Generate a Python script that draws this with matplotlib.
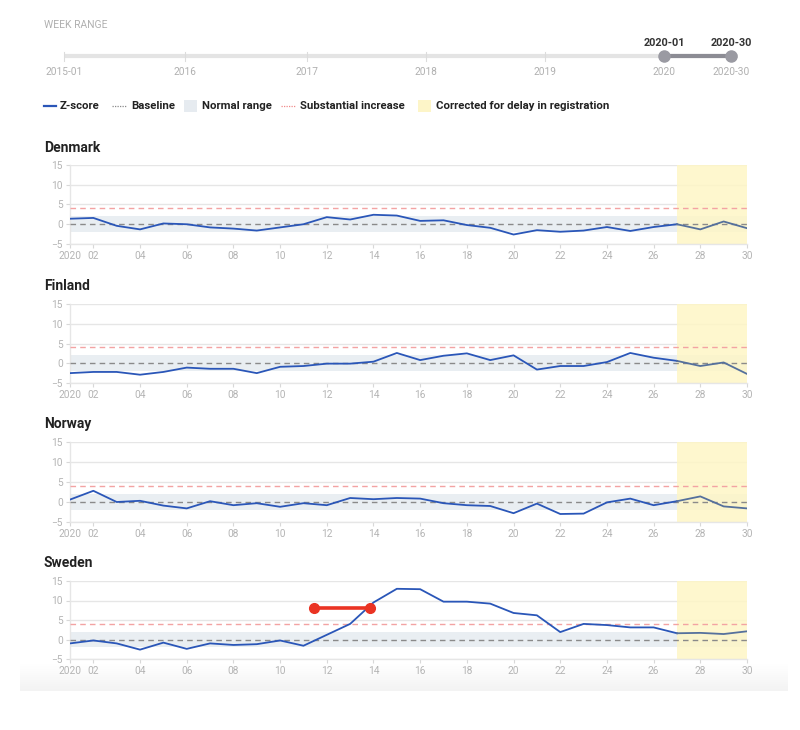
import numpy as np
import matplotlib
matplotlib.use("Agg")
import matplotlib.pyplot as plt
from matplotlib.patches import Rectangle
from matplotlib.colors import LinearSegmentedColormap

plt.rcParams['font.family'] = ['Roboto', 'DejaVu Sans']

weeks = list(range(1, 31))
countries = ["Denmark", "Finland", "Norway", "Sweden"]

denmark = [1.4, 1.6, -0.4, -1.3, 0.2, 0.0, -0.8, -1.1, -1.6, -0.8,
           0.0, 1.8, 1.2, 2.4, 2.2, 0.85, 1.0, -0.2, -0.9, -2.6,
           -1.5, -1.9, -1.6, -0.7, -1.7, -0.7, 0.0, -1.3, 0.7, -1.0]
finland = [-2.5, -2.2, -2.2, -2.9, -2.2, -1.1, -1.4, -1.4, -2.5, -0.9,
           -0.7, -0.1, -0.1, 0.4, 2.6, 0.8, 1.9, 2.5, 0.8, 2.0,
           -1.6, -0.7, -0.7, 0.3, 2.6, 1.4, 0.6, -0.7, 0.2, -2.7]
norway = [0.6, 2.8, 0.0, 0.3, -0.9, -1.6, 0.2, -0.8, -0.3, -1.2,
          -0.3, -0.8, 1.0, 0.7, 1.0, 0.85, -0.3, -0.8, -1.0, -2.8,
          -0.4, -3.0, -2.9, -0.1, 0.85, -0.8, 0.2, 1.4, -1.1, -1.6]
sweden = [-1.0, -0.25, -1.0, -2.6, -0.8, -2.4, -1.0, -1.4, -1.2, -0.25,
          -1.6, 1.2, 4.0, 9.5, 13.0, 12.9, 9.7, 9.7, 9.2, 6.8,
          6.2, 1.9, 4.0, 3.7, 3.1, 3.1, 1.6, 1.7, 1.4, 2.1]
zscores = [denmark, finland, norway, sweden]

baseline = 0
normal_low, normal_high = -2, 2
substantial = 4
corrected_from = 27

# red marker bar drawn over the Sweden panel
marker_x = [11.45, 13.85]
marker_y = [8.1, 8.1]

xtick_weeks = [1] + list(range(2, 31, 2))
xtick_labels = ["2020"] + ["%02d" % w for w in range(2, 31, 2)]
yticks = [-5, 0, 5, 10, 15]

slider_labels = ["2015-01", "2016", "2017", "2018", "2019", "2020"]
slider_pos = [64, 185, 307, 426, 545, 664]

BLUE = "#2a56b8"
GREYBLUE = "#55709c"
TICK = "#b4b4b4"
GRID = "#e6e6e6"
NORMAL = "#e9eef2"
YELLOW = "#fef6c6"

fig = plt.figure(figsize=(8, 7.3), dpi=100)

# background: faint fade at the bottom of the card
bg = fig.add_axes([0, 0, 1, 1], zorder=-5)
bg.set_xlim(0, 800)
bg.set_ylim(730, 0)
bg.axis("off")
fade = LinearSegmentedColormap.from_list("fade", ["#ffffff", "#f3f3f3"])
grad = np.linspace(0, 1, 60).reshape(-1, 1)
bg.imshow(grad, extent=(20, 788, 691, 664), cmap=fade, aspect="auto")
bg.set_xlim(0, 800)
bg.set_ylim(730, 0)

# panel boxes in pixels (top, bottom)
panels = [(165, 244), (304, 383), (442, 522), (581, 659)]
title_y = [148, 286, 424, 563]
left_px, right_px = 70, 747

for name, vals, (top, bot), ty in zip(countries, zscores, panels, title_y):
    ax = fig.add_axes([left_px / 800, 1 - bot / 730, (right_px - left_px) / 800, (bot - top) / 730])
    ax.patch.set_alpha(0)
    ax.set_xlim(1, 30)
    ax.set_ylim(-5, 15)
    ax.axhspan(normal_low, normal_high, color=NORMAL, zorder=1, lw=0)
    ax.axvspan(corrected_from, 30, color=YELLOW, alpha=0.85, zorder=2, lw=0)
    for t in yticks:
        ax.axhline(t, color=GRID, lw=1, zorder=0)
    ax.axhline(substantial, color="#f3a3a3", lw=1, ls=(0, (4, 3)), zorder=3)
    ax.axhline(baseline, color="#8a8a8a", lw=1, ls=(0, (4, 3)), zorder=3)
    i = weeks.index(corrected_from)
    ax.plot(weeks[:i + 1], vals[:i + 1], color=BLUE, lw=1.3, zorder=4)
    ax.plot(weeks[i:], vals[i:], color=GREYBLUE, lw=1.3, zorder=4)
    if name == "Sweden":
        ax.plot(marker_x, marker_y, color="#ea3323", lw=2.6, marker="o",
                ms=7, zorder=6, solid_capstyle="butt")
    ax.set_xticks(xtick_weeks)
    ax.set_xticklabels(xtick_labels)
    ax.set_yticks(yticks)
    for s in ["top", "right"]:
        ax.spines[s].set_visible(False)
    for s in ["left", "bottom"]:
        ax.spines[s].set_color(GRID)
        ax.spines[s].set_linewidth(1)
    ax.tick_params(colors=TICK, labelsize=7.3, length=3, width=0.8, pad=2)
    ax.tick_params(axis="both", color="#d8d8d8")
    fig.text(44 / 800, 1 - ty / 730, name, fontsize=10, fontweight="bold",
             color="#222222", va="center", ha="left")

# overlay for slider and legend (pixel coords)
ov = fig.add_axes([0, 0, 1, 1], zorder=10)
ov.set_xlim(0, 800)
ov.set_ylim(730, 0)
ov.axis("off")
ov.patch.set_alpha(0)

ov.text(44, 25, "WEEK RANGE", fontsize=7.5, color="#b0b0b0", va="center")
ov.plot([64, 738], [56, 56], color="#e4e4e4", lw=3, solid_capstyle="butt")
for x in slider_pos:
    ov.plot([x, x], [52, 61], color="#dcdcdc", lw=0.8)
ov.plot([664, 731], [56, 56], color="#8c8c94", lw=3)
ov.plot([664, 731], [56, 56], "o", color="#9a9aa2", ms=8)
for lab, x in zip(slider_labels, slider_pos):
    ov.text(x, 72, lab, fontsize=7.3, color="#b0b0b0", ha="center", va="center")
ov.text(731, 72, "2020-30", fontsize=7.3, color="#b0b0b0", ha="center", va="center")
ov.text(664, 43, "2020-01", fontsize=7.8, color="#333333", ha="center", va="center", fontweight="bold")
ov.text(731, 43, "2020-30", fontsize=7.8, color="#333333", ha="center", va="center", fontweight="bold")

ly = 106
fs = 8.2
ov.plot([44, 56], [ly, ly], color=BLUE, lw=1.6)
ov.text(60, ly, "Z-score", fontsize=fs, color="#222222", va="center", fontweight="bold")
ov.plot([112, 126], [ly, ly], color="#8a8a8a", lw=0.9, ls=(0, (1, 1)))
ov.text(131, ly, "Baseline", fontsize=fs, color="#222222", va="center", fontweight="bold")
ov.add_patch(Rectangle((184, ly - 6), 13, 12, color="#e6ebf0", lw=0))
ov.text(202, ly, "Normal range", fontsize=fs, color="#222222", va="center", fontweight="bold")
ov.plot([281, 296], [ly, ly], color="#f08a8a", lw=0.9, ls=(0, (1, 1)))
ov.text(300, ly, "Substantial increase", fontsize=fs, color="#222222", va="center", fontweight="bold")
ov.add_patch(Rectangle((418, ly - 6), 13, 12, color="#fdf5c8", lw=0))
ov.text(436, ly, "Corrected for delay in registration", fontsize=fs, color="#222222",
        va="center", fontweight="bold")

fig.savefig("out.png", dpi=100)
